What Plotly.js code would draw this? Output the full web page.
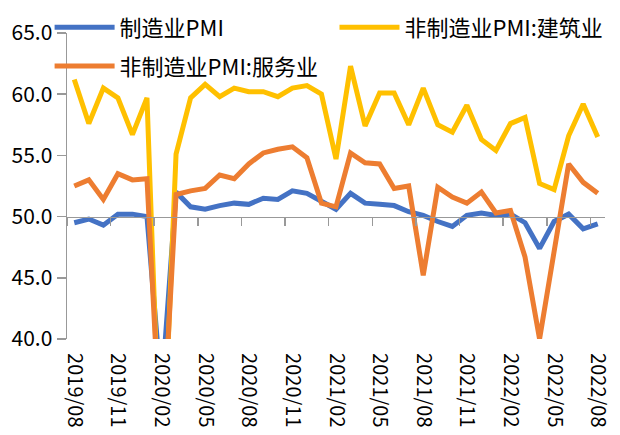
<!DOCTYPE html>
<html>
<head>
<meta charset="utf-8">
<script src="https://cdn.plot.ly/plotly-3.0.1.min.js"></script>
<style>html,body{margin:0;padding:0;background:#fff;}#chart{width:620px;height:435px;}</style>
</head>
<body>
<div id="chart"></div>
<script>
const months = ["2019/08","2019/09","2019/10","2019/11","2019/12","2020/01","2020/02","2020/03","2020/04","2020/05","2020/06","2020/07","2020/08","2020/09","2020/10","2020/11","2020/12","2021/01","2021/02","2021/03","2021/04","2021/05","2021/06","2021/07","2021/08","2021/09","2021/10","2021/11","2021/12","2022/01","2022/02","2022/03","2022/04","2022/05","2022/06","2022/07","2022/08"];
const manufacturing = [49.5,49.8,49.3,50.2,50.2,50.0,35.7,52.0,50.8,50.6,50.9,51.1,51.0,51.5,51.4,52.1,51.9,51.3,50.6,51.9,51.1,51.0,50.9,50.4,50.1,49.6,49.2,50.1,50.3,50.1,50.2,49.5,47.4,49.6,50.2,49.0,49.4];
const construction = [61.2,57.6,60.5,59.7,56.7,59.7,26.6,55.1,59.7,60.8,59.8,60.5,60.2,60.2,59.8,60.5,60.7,60.0,54.7,62.3,57.4,60.1,60.1,57.5,60.5,57.5,56.9,59.1,56.3,55.4,57.6,58.1,52.7,52.2,56.6,59.2,56.5];
const services = [52.5,53.0,51.4,53.5,53.0,53.1,30.1,51.8,52.1,52.3,53.4,53.1,54.3,55.2,55.5,55.7,54.8,51.1,50.8,55.2,54.4,54.3,52.3,52.5,45.2,52.4,51.6,51.1,52.0,50.3,50.5,46.7,40.0,47.1,54.3,52.8,51.9];
const names = ["制造业PMI","非制造业PMI:建筑业","非制造业PMI:服务业"];
const colors = ["#4472C4","#FFC000","#ED7D31"];
const yTicks = [40,45,50,55,60,65];

const idx = months.map((m,i)=>i);
const labelIdx = idx.filter(i=>i%3===0);
const tickText = labelIdx.map(i=>months[i]);
const boundaryTicks = labelIdx.map(i=>i-0.5);

const series = [manufacturing, construction, services];
const legendOf = ["legend","legend2","legend3"];
const traces = series.map((s,k)=>({
  type:"scatter", mode:"lines", x:idx, y:s, name:names[k],
  line:{color:colors[k], width:5},
  legend: legendOf[k],
  hoverinfo:"skip"
}));

const font = "'Noto Sans CJK SC', 'Liberation Sans', sans-serif";
const legendBase = {orientation:"h", xref:"container", yref:"container", xanchor:"left", yanchor:"top",
  itemwidth:60, font:{size:22, family:font, color:"#000"}, bgcolor:"rgba(0,0,0,0)"};
const layout = {
  width:620, height:435,
  margin:{l:67, r:15, t:33, b:96, autoexpand:false},
  paper_bgcolor:"#fff", plot_bgcolor:"#fff",
  font:{family:font, color:"#000"},
  showlegend:true,
  legend:Object.assign({}, legendBase, {x:0.08, y:0.985}),
  legend2:Object.assign({}, legendBase, {x:0.5395, y:0.985}),
  legend3:Object.assign({}, legendBase, {x:0.08, y:0.896}),
  xaxis:{range:[-0.5,36.5], anchor:"free", position:(50-40)/(65-40),
    tickmode:"array", tickvals:labelIdx, ticktext:tickText, tickangle:90,
    ticklabelstandoff:131, ticks:"",
    minor:{tickmode:"array", tickvals:boundaryTicks, ticks:"outside", ticklen:8, tickwidth:1.5, tickcolor:"#999", showgrid:false},
    showline:true, linecolor:"#999", linewidth:1.5, showgrid:false, zeroline:false,
    tickfont:{size:20, family:font, color:"#000"}},
  yaxis:{range:[40,65], tickmode:"array", tickvals:yTicks, tickformat:".1f",
    ticks:"outside", ticklen:9, tickwidth:1.5, tickcolor:"#999", showline:true, linecolor:"#999", linewidth:1.5,
    showgrid:false, zeroline:false, tickfont:{size:21, family:font, color:"#000"}}
};
Plotly.newPlot("chart", traces, layout, {displayModeBar:false, staticPlot:true});
</script>
</body>
</html>
